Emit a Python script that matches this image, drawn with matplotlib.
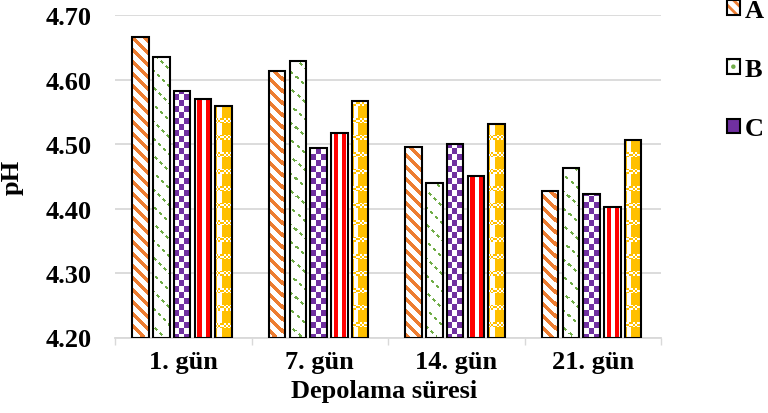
import numpy as np
import matplotlib.pyplot as plt
import matplotlib.colors as mcolors
from matplotlib.patches import Patch

categories = ['1. gün', '7. gün', '14. gün', '21. gün']
series = ['A', 'B', 'C', 'D', 'E']
ph_a = [4.666, 4.613, 4.495, 4.427]
ph_b = [4.636, 4.629, 4.440, 4.463]
ph_c = [4.583, 4.494, 4.500, 4.422]
ph_d = [4.570, 4.517, 4.450, 4.403]
ph_e = [4.560, 4.567, 4.532, 4.506]
yticks = [4.20, 4.30, 4.40, 4.50, 4.60, 4.70]

ORANGE = '#ED7D31'
GREEN = '#70AD47'
PURPLE = '#7030A0'
RED = '#FF0000'
GOLD = '#FFC000'
GRID = '#D9D9D9'

plt.rcParams['font.family'] = ['Liberation Serif', 'DejaVu Serif']
plt.rcParams['font.weight'] = 'bold'
plt.rcParams['hatch.linewidth'] = 2.0
FS = 19


def rgb(c):
    return np.array(mcolors.to_rgb(c))


def fill_pattern(kind, X, Y, XL):
    # X, Y are pixel coords (y up), XL is x measured from the bar's left edge
    img = np.ones(X.shape + (3,))
    if kind == 'A':
        img[(X + Y) % 12 < 5] = rgb(ORANGE)
    elif kind == 'B':
        m = ((X + Y) % 17 < 2.6) & ((X - Y) % 10 < 5)
        img[m] = rgb(GREEN)
    elif kind == 'C':
        img[((XL // 5) + (Y // 6)) % 2 == 0] = rgb(PURPLE)
    elif kind == 'D':
        img[(XL - 2) % 8 < 4] = rgb(RED)
    elif kind == 'E':
        col = (XL < 1.5) | (XL >= 6)
        band = Y % 17 < 5
        fine = ((XL // 2) + (Y // 2)) % 2 == 0
        img[col ^ (band & fine)] = rgb(GOLD)
    return img


DPI = 100
fig = plt.figure(figsize=(7.68, 4.14), dpi=DPI)
ax = fig.add_axes([115 / 768, 1 - 338.5 / 414, 546 / 768, 322.2 / 414])
ax.set_xlim(-0.5, len(categories) - 0.5)
ax.set_ylim(4.20, 4.70)

x = np.arange(len(categories))
width = 0.12
step = 0.152
values = [ph_a, ph_b, ph_c, ph_d, ph_e]

for i, (name, vals) in enumerate(zip(series, values)):
    pos = x + (i - 2) * step - 0.008
    bars = ax.bar(pos, np.array(vals) - 4.20, width, bottom=4.20,
                  facecolor='none', edgecolor='black', linewidth=1.5,
                  zorder=3, label=name)
    inv = ax.transData.inverted()
    for b in bars:
        x0, y0 = b.get_x(), b.get_y()
        x1, y1 = x0 + b.get_width(), y0 + b.get_height()
        (px0, py0), (px1, py1) = ax.transData.transform([(x0, y0), (x1, y1)])
        ix0, iy0 = int(np.floor(px0)), int(np.floor(py0))
        ix1, iy1 = int(np.ceil(px1)), int(np.ceil(py1))
        X, Y = np.meshgrid(np.arange(ix0, ix1), np.arange(iy0, iy1))
        img = fill_pattern(name, X, Y, X - px0)
        (dx0, dy0), (dx1, dy1) = inv.transform([(ix0, iy0), (ix1, iy1)])
        im = ax.imshow(img, extent=(dx0, dx1, dy0, dy1), origin='lower',
                       interpolation='nearest', aspect='auto', zorder=2)
        im.set_clip_path(b)

ax.set_xlim(-0.5, len(categories) - 0.5)
ax.set_ylim(4.20, 4.70)

ax.set_yticks(yticks)
ax.set_yticklabels([f'{v:.2f}' for v in yticks], fontsize=FS, fontweight='bold')
ax.set_xticks(x)
ax.set_xticklabels(categories, fontsize=FS, fontweight='bold')
ax.set_xticks(np.arange(-0.5, len(categories)), minor=True)
ax.tick_params(axis='y', length=0, pad=17)
ax.tick_params(axis='x', which='major', length=0, pad=9)
ax.tick_params(axis='x', which='minor', length=5, width=1, color=GRID)

ax.yaxis.grid(True, color=GRID, linewidth=1.3)
ax.set_axisbelow(True)
for side in ['left', 'right', 'top']:
    ax.spines[side].set_visible(False)
ax.spines['bottom'].set_color(GRID)
ax.spines['bottom'].set_linewidth(1.3)

ax.set_ylabel('pH', fontsize=FS, fontweight='bold')
ax.yaxis.set_label_coords(-0.167, 0.5)
ax.set_xlabel('Depolama süresi', fontsize=FS, fontweight='bold')
ax.xaxis.set_label_coords(0.493, -0.165)
ax.xaxis.label.set_va('center')

# legend squares for the first three groups
frame = dict(fill=False, edgecolor='black', linewidth=1.5)
handles = [
    (Patch(facecolor='white', edgecolor=ORANGE, hatch='\\\\\\', linewidth=0), Patch(**frame)),
    (Patch(facecolor='white', edgecolor=GREEN, hatch='..', linewidth=0), Patch(**frame)),
    (Patch(facecolor=PURPLE, linewidth=0), Patch(**frame)),
]
fig.legend(handles, series[:3], loc='upper left', bbox_to_anchor=(727 / 768, 1.0),
           frameon=False, borderpad=0, borderaxespad=0,
           handlelength=0.48, handleheight=0.48, handletextpad=0.2,
           labelspacing=1.37, prop={'weight': 'bold', 'size': FS})

fig.savefig('out.png', dpi=DPI)
